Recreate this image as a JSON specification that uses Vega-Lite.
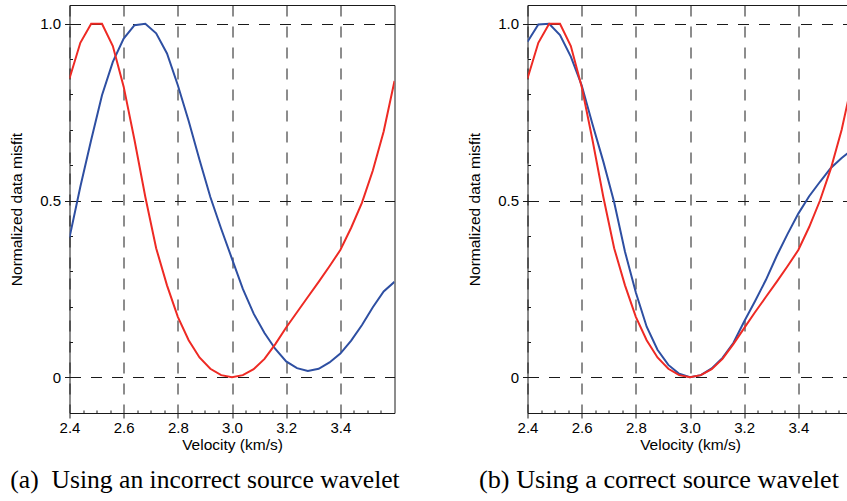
{
  "$schema": "https://vega.github.io/schema/vega-lite/v6.json",
  "padding": {"left": 8.5, "top": 5, "right": 0, "bottom": 0},
  "background": "white",
  "spacing": 133,
  "bounds": "flush",
  "config": {
    "view": {"stroke": null},
    "axis": {
      "domainColor": "#1a1a1a",
      "domainWidth": 1,
      "tickColor": "#1a1a1a",
      "tickWidth": 1,
      "labelFont": "Liberation Sans",
      "labelFontSize": 15,
      "labelColor": "#000000",
      "titleFont": "Liberation Sans",
      "titleFontSize": 15.5,
      "titleFontWeight": "normal",
      "titleColor": "#000000",
      "gridColor": "#1a1a1a",
      "gridWidth": 1,
      "labelFlush": false,
      "labelOverlap": false
    }
  },
  "datasets": {
    "pts": [
      {"panel":"a","series":"red","v":2.40,"misfit":0.845},{"panel":"a","series":"red","v":2.44,"misfit":0.946},{"panel":"a","series":"red","v":2.48,"misfit":1.0},{"panel":"a","series":"red","v":2.52,"misfit":1.0},{"panel":"a","series":"red","v":2.56,"misfit":0.937},{"panel":"a","series":"red","v":2.60,"misfit":0.822},{"panel":"a","series":"red","v":2.64,"misfit":0.671},{"panel":"a","series":"red","v":2.68,"misfit":0.51},{"panel":"a","series":"red","v":2.72,"misfit":0.365},{"panel":"a","series":"red","v":2.76,"misfit":0.26},{"panel":"a","series":"red","v":2.80,"misfit":0.171},{"panel":"a","series":"red","v":2.84,"misfit":0.105},{"panel":"a","series":"red","v":2.88,"misfit":0.056},{"panel":"a","series":"red","v":2.92,"misfit":0.024},{"panel":"a","series":"red","v":2.96,"misfit":0.006},{"panel":"a","series":"red","v":3.00,"misfit":0.0},{"panel":"a","series":"red","v":3.04,"misfit":0.006},{"panel":"a","series":"red","v":3.08,"misfit":0.023},{"panel":"a","series":"red","v":3.12,"misfit":0.052},{"panel":"a","series":"red","v":3.16,"misfit":0.094},{"panel":"a","series":"red","v":3.20,"misfit":0.141},{"panel":"a","series":"red","v":3.24,"misfit":0.184},{"panel":"a","series":"red","v":3.28,"misfit":0.227},{"panel":"a","series":"red","v":3.32,"misfit":0.27},{"panel":"a","series":"red","v":3.36,"misfit":0.314},{"panel":"a","series":"red","v":3.40,"misfit":0.36},{"panel":"a","series":"red","v":3.44,"misfit":0.423},{"panel":"a","series":"red","v":3.48,"misfit":0.494},{"panel":"a","series":"red","v":3.52,"misfit":0.585},{"panel":"a","series":"red","v":3.56,"misfit":0.695},{"panel":"a","series":"red","v":3.60,"misfit":0.838},
      {"panel":"a","series":"blue","v":2.40,"misfit":0.395},{"panel":"a","series":"blue","v":2.44,"misfit":0.539},{"panel":"a","series":"blue","v":2.48,"misfit":0.671},{"panel":"a","series":"blue","v":2.52,"misfit":0.798},{"panel":"a","series":"blue","v":2.56,"misfit":0.892},{"panel":"a","series":"blue","v":2.60,"misfit":0.958},{"panel":"a","series":"blue","v":2.64,"misfit":0.996},{"panel":"a","series":"blue","v":2.68,"misfit":1.0},{"panel":"a","series":"blue","v":2.72,"misfit":0.973},{"panel":"a","series":"blue","v":2.76,"misfit":0.916},{"panel":"a","series":"blue","v":2.80,"misfit":0.826},{"panel":"a","series":"blue","v":2.84,"misfit":0.725},{"panel":"a","series":"blue","v":2.88,"misfit":0.615},{"panel":"a","series":"blue","v":2.92,"misfit":0.51},{"panel":"a","series":"blue","v":2.96,"misfit":0.42},{"panel":"a","series":"blue","v":3.00,"misfit":0.335},{"panel":"a","series":"blue","v":3.04,"misfit":0.25},{"panel":"a","series":"blue","v":3.08,"misfit":0.18},{"panel":"a","series":"blue","v":3.12,"misfit":0.125},{"panel":"a","series":"blue","v":3.16,"misfit":0.08},{"panel":"a","series":"blue","v":3.20,"misfit":0.045},{"panel":"a","series":"blue","v":3.24,"misfit":0.026},{"panel":"a","series":"blue","v":3.28,"misfit":0.018},{"panel":"a","series":"blue","v":3.32,"misfit":0.024},{"panel":"a","series":"blue","v":3.36,"misfit":0.042},{"panel":"a","series":"blue","v":3.40,"misfit":0.067},{"panel":"a","series":"blue","v":3.44,"misfit":0.104},{"panel":"a","series":"blue","v":3.48,"misfit":0.148},{"panel":"a","series":"blue","v":3.52,"misfit":0.198},{"panel":"a","series":"blue","v":3.56,"misfit":0.243},{"panel":"a","series":"blue","v":3.60,"misfit":0.27},
      {"panel":"b","series":"red","v":2.40,"misfit":0.845},{"panel":"b","series":"red","v":2.44,"misfit":0.946},{"panel":"b","series":"red","v":2.48,"misfit":1.0},{"panel":"b","series":"red","v":2.52,"misfit":1.0},{"panel":"b","series":"red","v":2.56,"misfit":0.937},{"panel":"b","series":"red","v":2.60,"misfit":0.822},{"panel":"b","series":"red","v":2.64,"misfit":0.671},{"panel":"b","series":"red","v":2.68,"misfit":0.51},{"panel":"b","series":"red","v":2.72,"misfit":0.365},{"panel":"b","series":"red","v":2.76,"misfit":0.26},{"panel":"b","series":"red","v":2.80,"misfit":0.171},{"panel":"b","series":"red","v":2.84,"misfit":0.105},{"panel":"b","series":"red","v":2.88,"misfit":0.056},{"panel":"b","series":"red","v":2.92,"misfit":0.024},{"panel":"b","series":"red","v":2.96,"misfit":0.006},{"panel":"b","series":"red","v":3.00,"misfit":0.0},{"panel":"b","series":"red","v":3.04,"misfit":0.006},{"panel":"b","series":"red","v":3.08,"misfit":0.023},{"panel":"b","series":"red","v":3.12,"misfit":0.052},{"panel":"b","series":"red","v":3.16,"misfit":0.094},{"panel":"b","series":"red","v":3.20,"misfit":0.139},{"panel":"b","series":"red","v":3.24,"misfit":0.184},{"panel":"b","series":"red","v":3.28,"misfit":0.227},{"panel":"b","series":"red","v":3.32,"misfit":0.27},{"panel":"b","series":"red","v":3.36,"misfit":0.314},{"panel":"b","series":"red","v":3.40,"misfit":0.36},{"panel":"b","series":"red","v":3.44,"misfit":0.425},{"panel":"b","series":"red","v":3.48,"misfit":0.5},{"panel":"b","series":"red","v":3.52,"misfit":0.59},{"panel":"b","series":"red","v":3.56,"misfit":0.7},{"panel":"b","series":"red","v":3.60,"misfit":0.84},
      {"panel":"b","series":"blue","v":2.40,"misfit":0.949},{"panel":"b","series":"blue","v":2.44,"misfit":0.998},{"panel":"b","series":"blue","v":2.48,"misfit":1.0},{"panel":"b","series":"blue","v":2.52,"misfit":0.968},{"panel":"b","series":"blue","v":2.56,"misfit":0.907},{"panel":"b","series":"blue","v":2.60,"misfit":0.826},{"panel":"b","series":"blue","v":2.64,"misfit":0.716},{"panel":"b","series":"blue","v":2.68,"misfit":0.61},{"panel":"b","series":"blue","v":2.72,"misfit":0.495},{"panel":"b","series":"blue","v":2.76,"misfit":0.355},{"panel":"b","series":"blue","v":2.80,"misfit":0.24},{"panel":"b","series":"blue","v":2.84,"misfit":0.143},{"panel":"b","series":"blue","v":2.88,"misfit":0.078},{"panel":"b","series":"blue","v":2.92,"misfit":0.035},{"panel":"b","series":"blue","v":2.96,"misfit":0.01},{"panel":"b","series":"blue","v":3.00,"misfit":0.0},{"panel":"b","series":"blue","v":3.04,"misfit":0.006},{"panel":"b","series":"blue","v":3.08,"misfit":0.025},{"panel":"b","series":"blue","v":3.12,"misfit":0.055},{"panel":"b","series":"blue","v":3.16,"misfit":0.097},{"panel":"b","series":"blue","v":3.20,"misfit":0.158},{"panel":"b","series":"blue","v":3.24,"misfit":0.215},{"panel":"b","series":"blue","v":3.28,"misfit":0.275},{"panel":"b","series":"blue","v":3.32,"misfit":0.343},{"panel":"b","series":"blue","v":3.36,"misfit":0.405},{"panel":"b","series":"blue","v":3.40,"misfit":0.463},{"panel":"b","series":"blue","v":3.44,"misfit":0.512},{"panel":"b","series":"blue","v":3.48,"misfit":0.553},{"panel":"b","series":"blue","v":3.52,"misfit":0.592},{"panel":"b","series":"blue","v":3.56,"misfit":0.62},{"panel":"b","series":"blue","v":3.60,"misfit":0.645}
    ]
  },
  "hconcat": [
    {
      "width": 325,
      "height": 408,
      "data": {"name": "pts"},
      "title": {"text": "(a)\u00a0 Using an incorrect source wavelet", "orient": "bottom", "anchor": "middle", "frame": "group", "dx": -27, "offset": 35, "baseline": "alphabetic", "font": "Liberation Serif", "fontSize": 25.6, "fontWeight": "normal", "color": "#000000"},
      "layer": [
        {
          "transform": [{"filter": "datum.panel == 'a' && datum.series == 'blue'"}],
          "mark": {"type": "line", "color": "#2E4FA2", "strokeWidth": 2, "clip": true},
          "encoding": {
            "x": {"field": "v", "type": "quantitative", "scale": {"domain": [2.4, 3.6], "nice": false, "zero": false},
              "axis": {"orient": "bottom", "zindex": 0, "values": [2.4, 2.6, 2.8, 3.0, 3.2, 3.4], "format": ".1f", "title": "Velocity (km/s)", "grid": true, "gridDash": [11, 10], "tickSize": 5, "labelPadding": 2, "titlePadding": 2}},
            "y": {"field": "misfit", "type": "quantitative", "scale": {"domain": [-0.101, 1.053], "nice": false, "zero": false},
              "axis": {"orient": "left", "zindex": 0, "values": [0, 0.5, 1], "labelExpr": "datum.value == 0 ? '0' : format(datum.value, '.1f')", "title": "Normalized data misfit", "grid": true, "gridDash": [11, 10], "tickSize": 5, "labelPadding": 4, "titlePadding": 15.5}}
          }
        },
        {
          "transform": [{"filter": "datum.panel == 'a' && datum.series == 'red'"}],
          "mark": {"type": "line", "color": "#EE2A24", "strokeWidth": 2, "clip": true},
          "encoding": {
            "x": {"field": "v", "type": "quantitative", "scale": {"domain": [2.4, 3.6], "nice": false, "zero": false},
              "axis": {"orient": "bottom", "zindex": 0, "values": [2.45, 2.5, 2.55, 2.65, 2.7, 2.75, 2.85, 2.9, 2.95, 3.05, 3.1, 3.15, 3.25, 3.3, 3.35, 3.45, 3.5, 3.55, 3.6], "labels": false, "domain": false, "title": null, "tickSize": -3, "grid": true,
                "gridOpacity": {"condition": {"test": "datum.value > 3.58", "value": 1}, "value": 0},
                "tickOpacity": {"condition": {"test": "datum.value > 3.58", "value": 0}, "value": 1}}},
            "y": {"field": "misfit", "type": "quantitative", "scale": {"domain": [-0.101, 1.053], "nice": false, "zero": false},
              "axis": {"orient": "left", "zindex": 0, "values": [0.1, 0.2, 0.3, 0.4, 0.6, 0.7, 0.8, 0.9, 1.053], "labels": false, "domain": false, "title": null, "tickSize": -3, "grid": true,
                "gridOpacity": {"condition": {"test": "datum.value > 1.02", "value": 1}, "value": 0},
                "tickOpacity": {"condition": {"test": "datum.value > 1.02", "value": 0}, "value": 1}}}
          }
        }
      ],
      "resolve": {"axis": {"x": "independent", "y": "independent"}}
    },
    {
      "width": 321,
      "height": 408,
      "data": {"name": "pts"},
      "title": {"text": "(b) Using a correct source wavelet", "orient": "bottom", "anchor": "middle", "frame": "group", "dx": -29, "offset": 35, "baseline": "alphabetic", "font": "Liberation Serif", "fontSize": 26.2, "fontWeight": "normal", "color": "#000000"},
      "layer": [
        {
          "transform": [{"filter": "datum.panel == 'b' && datum.series == 'blue'"}],
          "mark": {"type": "line", "color": "#2E4FA2", "strokeWidth": 2, "clip": true},
          "encoding": {
            "x": {"field": "v", "type": "quantitative", "scale": {"domain": [2.4, 3.58523], "nice": false, "zero": false},
              "axis": {"orient": "bottom", "zindex": 0, "values": [2.4, 2.6, 2.8, 3.0, 3.2, 3.4], "format": ".1f", "title": "Velocity (km/s)", "titleX": 162.5, "grid": true, "gridDash": [11, 10], "tickSize": 5, "labelPadding": 2, "titlePadding": 2}},
            "y": {"field": "misfit", "type": "quantitative", "scale": {"domain": [-0.101, 1.053], "nice": false, "zero": false},
              "axis": {"orient": "left", "zindex": 0, "values": [0, 0.5, 1], "labelExpr": "datum.value == 0 ? '0' : format(datum.value, '.1f')", "title": "Normalized data misfit", "grid": true, "gridDash": [11, 10], "tickSize": 5, "labelPadding": 4, "titlePadding": 15.5}}
          }
        },
        {
          "transform": [{"filter": "datum.panel == 'b' && datum.series == 'red'"}],
          "mark": {"type": "line", "color": "#EE2A24", "strokeWidth": 2, "clip": true},
          "encoding": {
            "x": {"field": "v", "type": "quantitative", "scale": {"domain": [2.4, 3.58523], "nice": false, "zero": false},
              "axis": {"orient": "bottom", "zindex": 0, "values": [2.45, 2.5, 2.55, 2.65, 2.7, 2.75, 2.85, 2.9, 2.95, 3.05, 3.1, 3.15, 3.25, 3.3, 3.35, 3.45, 3.5, 3.55], "labels": false, "domain": false, "title": null, "tickSize": -3, "grid": false}},
            "y": {"field": "misfit", "type": "quantitative", "scale": {"domain": [-0.101, 1.053], "nice": false, "zero": false},
              "axis": {"orient": "left", "zindex": 0, "values": [0.1, 0.2, 0.3, 0.4, 0.6, 0.7, 0.8, 0.9, 1.053], "labels": false, "domain": false, "title": null, "tickSize": -3, "grid": true,
                "gridOpacity": {"condition": {"test": "datum.value > 1.02", "value": 1}, "value": 0},
                "tickOpacity": {"condition": {"test": "datum.value > 1.02", "value": 0}, "value": 1}}}
          }
        }
      ],
      "resolve": {"axis": {"x": "independent", "y": "independent"}}
    }
  ]
}
